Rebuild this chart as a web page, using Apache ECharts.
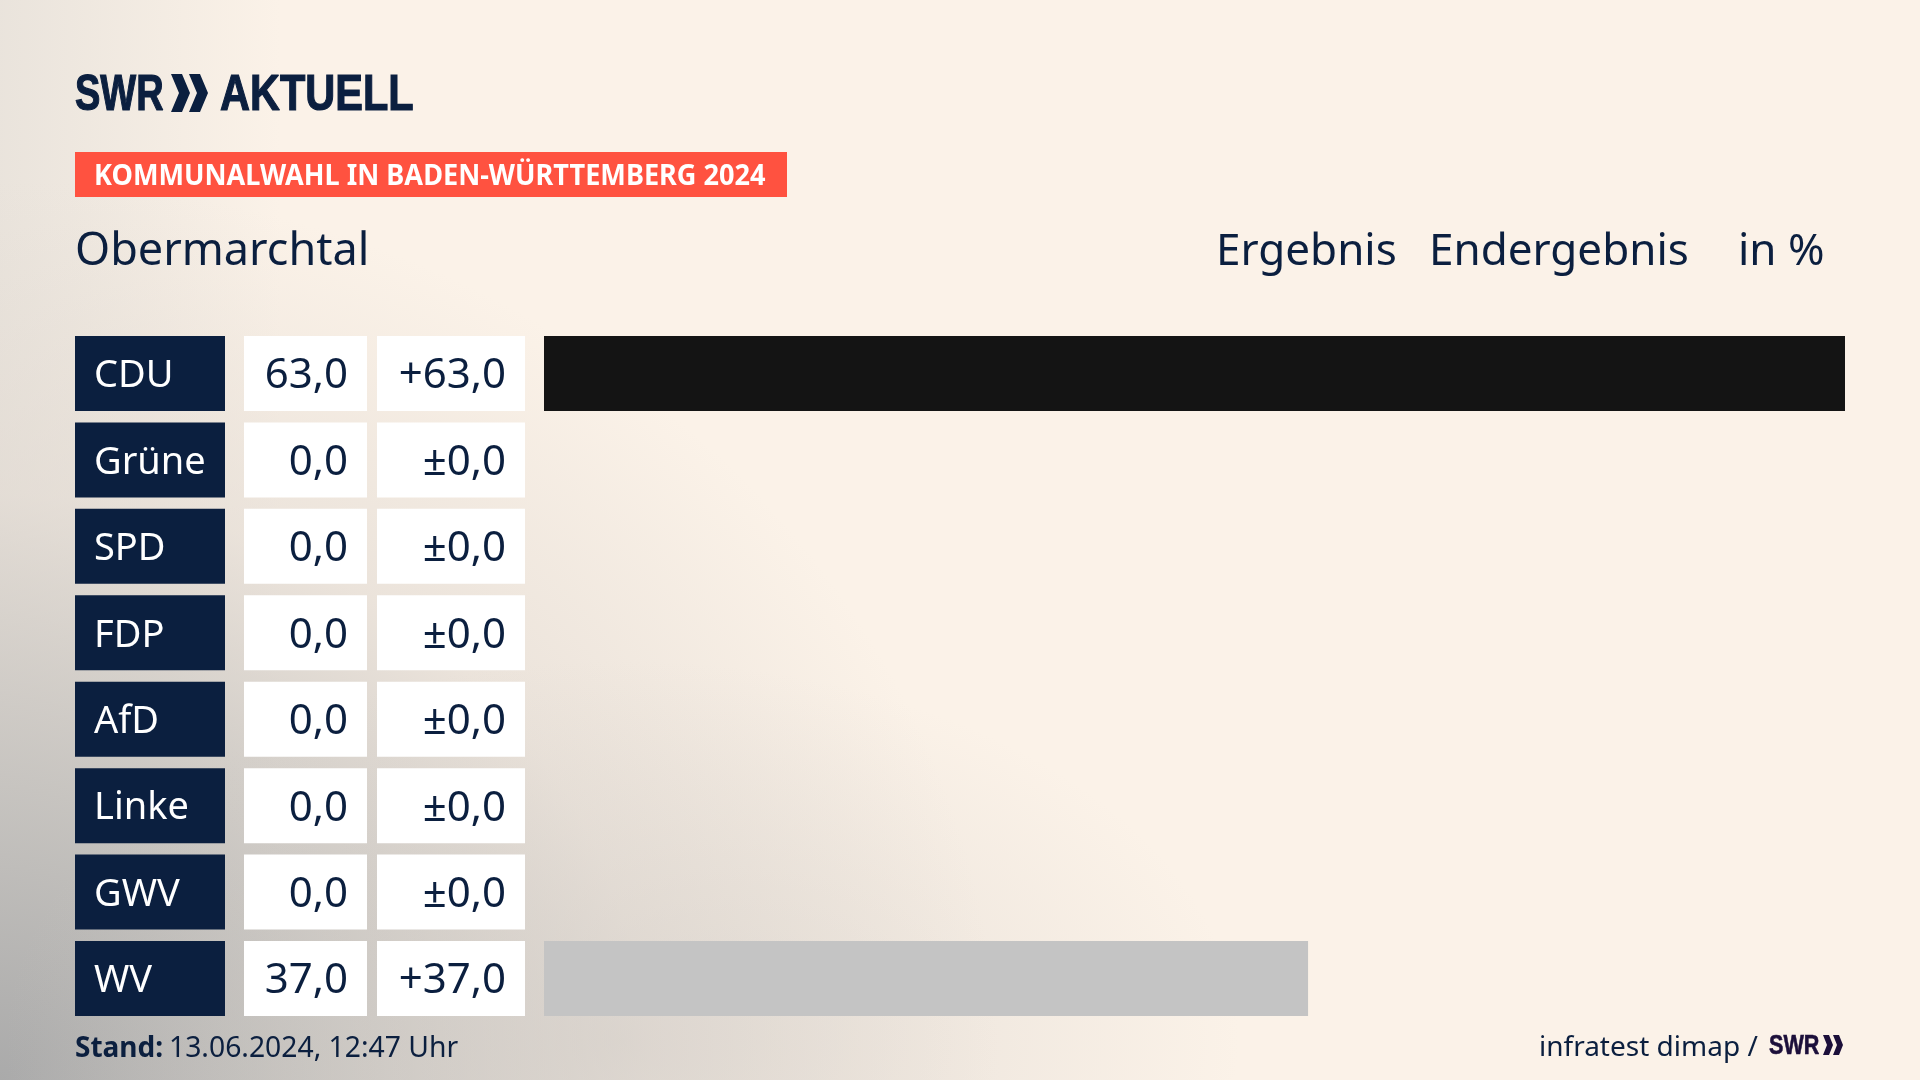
<!DOCTYPE html>
<html><head><meta charset="utf-8">
<style>
html,body{margin:0;padding:0;width:1920px;height:1080px;overflow:hidden;background-color:#fbf2e8;}
#bg{position:absolute;left:0;top:0;width:1920px;height:1080px;background:
 radial-gradient(ellipse 620px 380px at 620px 1040px, rgba(205,200,195,.5), rgba(205,200,195,0) 100%),
 radial-gradient(ellipse 1000px 900px at 0px 1080px, rgba(170,170,170,1) 0%, rgba(190,188,185,.85) 30%, rgba(222,215,208,.55) 65%, rgba(251,242,232,0) 100%),
 linear-gradient(90deg, rgba(222,218,212,.6) 0, rgba(251,242,232,0) 280px),
 #fbf2e8;}
#c{position:absolute;left:0;top:0;width:1920px;height:1080px;}
</style></head><body>
<div id="bg"></div><div id="c"></div>
<script src="https://cdn.jsdelivr.net/npm/echarts@6/dist/echarts.min.js"></script>
<script>
const parties = ["CDU","Grüne","SPD","FDP","AfD","Linke","GWV","WV"];
const results = [63.0,0.0,0.0,0.0,0.0,0.0,0.0,37.0];
const changes = [63.0,0.0,0.0,0.0,0.0,0.0,0.0,37.0];
const barColors = ["#141414","#1f9a3c","#d7101e","#f5d000","#1a9fdc","#b3106c","#999999","#c4c4c4"];
const cellFill = [1,1,1,1,1,1,1,1];

const NAVY="#0b1f3f", FONT="'Noto Sans'", LOGO="'Liberation Sans'";
const fmt=v=>v.toFixed(1).replace(".",",");
const fmtChange=v=>(v>0?"+":v<0?"-":"±")+fmt(Math.abs(v));

const TOP=330.3,H=691.4,BAR=75;
const cols=[[75,150],[244,123],[377,148],[544,1301]];
const grid=cols.map(c=>({left:c[0],width:c[1],top:TOP,height:H,containLabel:false}));
const xAxis=cols.map((c,i)=>({gridIndex:i,type:"value",min:0,max:i===3?63:1,show:false}));
const yAxis=cols.map((c,i)=>({gridIndex:i,type:"category",inverse:true,data:parties,show:false}));
const cell=(i,color,pos,size,fmtFn,textColor)=>({type:"bar",xAxisIndex:i,yAxisIndex:i,data:cellFill,barWidth:BAR,silent:true,
  itemStyle:{color},
  label:{show:true,position:pos,distance:19,offset:[0,3],color:textColor,fontFamily:FONT,fontSize:size,formatter:p=>fmtFn(p.dataIndex)}});
const series=[
 cell(0,NAVY,"insideLeft",38,i=>parties[i],"#ffffff"),
 cell(1,"#ffffff","insideRight",42,i=>fmt(results[i]),NAVY),
 cell(2,"#ffffff","insideRight",42,i=>fmtChange(changes[i]),NAVY),
 {type:"bar",xAxisIndex:3,yAxisIndex:3,barWidth:BAR,silent:true,
  data:results.map((v,i)=>({value:v,itemStyle:{color:barColors[i]}}))}
];
const txt=(x,base,text,size,opt={},scaleX=1)=>({type:"text",x,y:base,scaleX,silent:true,style:Object.assign({text,fontFamily:FONT,fontSize:size,fill:NAVY,verticalAlign:"bottom"},opt)});
const chev=(x,y,w,h,t,fill)=>({type:"polygon",silent:true,shape:{points:[[x,y],[x+t,y],[x+w,y+h/2],[x+t,y+h],[x,y+h],[x+w-t,y+h/2]]},style:{fill}});
const B={fontFamily:LOGO,fontWeight:"bold",stroke:NAVY,lineWidth:1.2};
const graphic=[
 txt(75,121,"SWR",50,B,.76),
 chev(171,74,19,38,11,NAVY),chev(189,74,19,38,11,NAVY),
 txt(220,121,"AKTUELL",50,B,.83),
 {type:"rect",silent:true,shape:{x:75,y:152,width:712,height:45},style:{fill:"#ff5240"}},
 txt(94,191,"KOMMUNALWAHL IN BADEN-WÜRTTEMBERG 2024",28,{fill:"#ffffff",fontWeight:"bold"},.968),
 txt(75,275,"Obermarchtal",45),
 txt(1216,274,"Ergebnis",44),
 txt(1429,274,"Endergebnis",44),
 txt(1738,274,"in %",44),
 txt(75,1063,"Stand:",28,{fontWeight:"bold"}),
 txt(169,1063,"13.06.2024, 12:47 Uhr",28.3),
 txt(1539,1062,"infratest dimap /",28),
 txt(1769,1060,"SWR",27,Object.assign({},B,{fill:"#1c0f3a",stroke:"#1c0f3a",lineWidth:.6}),.8),
 chev(1823,1035,10,20,6,"#1c0f3a"),chev(1833,1035,10,20,6,"#1c0f3a")
];
const chart=echarts.init(document.getElementById("c"),null,{renderer:"canvas",width:1920,height:1080});
chart.setOption({animation:false,backgroundColor:"transparent",grid,xAxis,yAxis,series,graphic});
</script></body></html>
